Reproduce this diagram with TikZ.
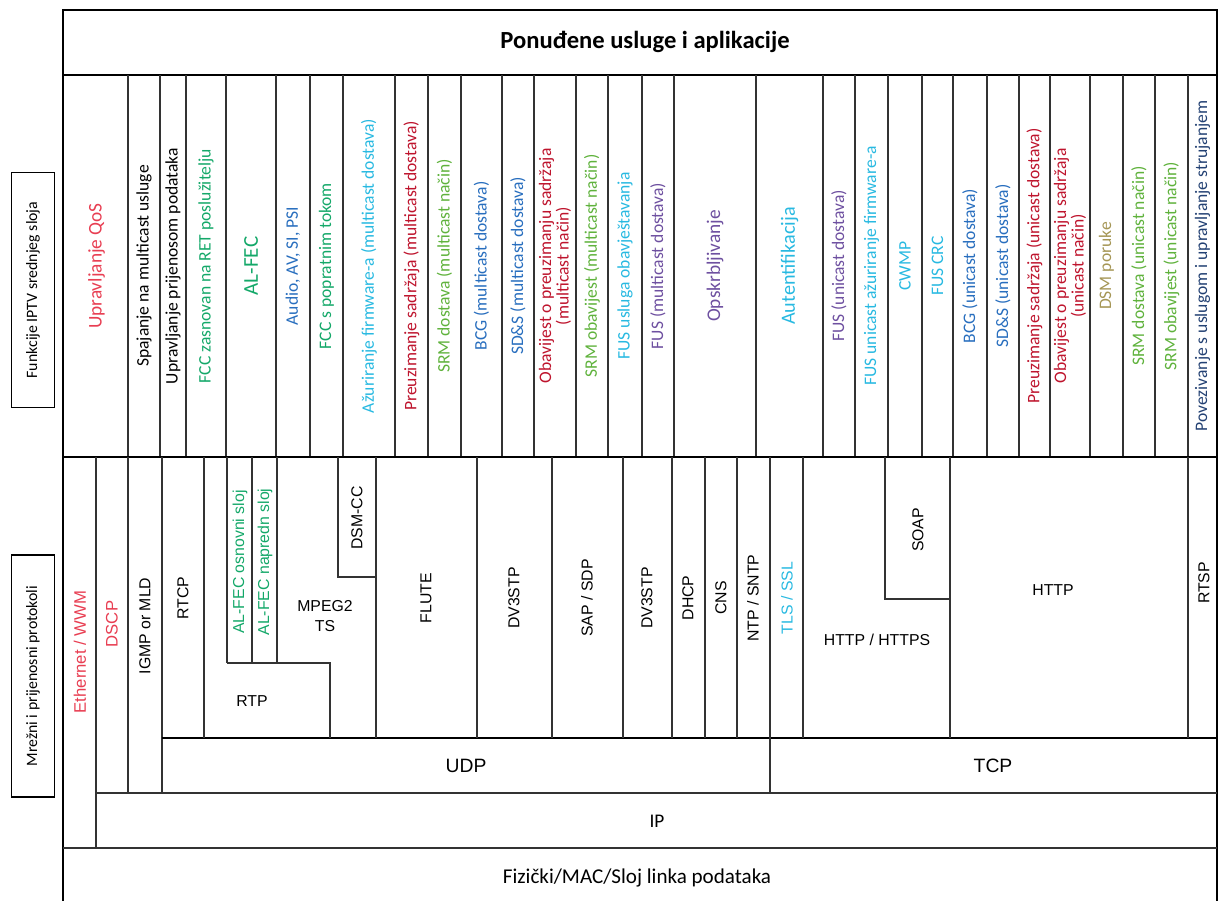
\documentclass[tikz,border=0pt]{standalone}
\usepackage{fontspec}
\setmainfont{Carlito}
\newfontfamily\arialfont{Liberation Sans}
\usetikzlibrary{positioning}

\definecolor{qosred}{RGB}{232,62,82}
\definecolor{darkred}{RGB}{190,20,45}
\definecolor{fecgreen}{RGB}{20,168,105}
\definecolor{srmgreen}{RGB}{95,178,60}
\definecolor{bcgblue}{RGB}{40,110,190}
\definecolor{fwcyan}{RGB}{40,185,225}
\definecolor{fuspurple}{RGB}{110,80,160}
\definecolor{dsmolive}{RGB}{165,150,85}
\definecolor{rtspblue}{RGB}{35,65,115}

\begin{document}
\begin{tikzpicture}[
    x=0.02cm, y=-0.02cm,
    line/.style={line width=0.7pt, black!80},
    heavy/.style={line width=1.2pt, black},
    fnlabel/.style={rotate=90, align=center, inner sep=0pt},
    proto/.style={font=\arialfont\fontsize{9}{11}\selectfont, align=center, inner sep=0pt},
    layer/.style={font=\arialfont\fontsize{11}{12}\selectfont, inner sep=0pt},
    sidebox/.style={draw, line width=0.8pt, rotate=90, font=\fontsize{9}{10}\selectfont,
        minimum height=0.86cm, inner sep=2pt}
]
    \useasboundingbox (0,0) rectangle (1219,901);

    % === Frame and header ===
    \draw[heavy] (63,901) -- (63,10) -- (1217,10) -- (1217,901);
    \draw[heavy] (63,75) -- (1217,75);
    \node[font=\fontsize{14}{16}\selectfont\bfseries] (header) at (645,42) {Ponuđene usluge i aplikacije};

    % side labels
    \node[sidebox, minimum width=4.7cm] (mwlabel) at (33,290) {Funkcije IPTV srednjeg sloja};
    \node[sidebox, minimum width=4.84cm] (netlabel) at (33,676) {Mrežni i prijenosni protokoli};

    % === IPTV middleware functions ===
    \foreach \x in {128,160,186,226,276,310,343,395,428,461,502,534,576,608,642,674,756,823,855,888,922,953,987,1019,1050,1090,1123,1155,1188}
        \draw[line] (\x,75) -- (\x,457);

    \foreach \xa/\xb/\fs/\clr/\txt [count=\i] in {
        65/128/11/qosred/{Upravljanje QoS},
        128/160/10/black/{Spajanje na multicast usluge},
        160/186/10/black/{Upravljanje prijenosom podataka},
        186/226/10/fecgreen/{FCC zasnovan na RET poslužitelju},
        226/276/12/fecgreen/{AL-FEC},
        276/310/10/bcgblue/{Audio, AV, SI, PSI},
        310/343/10/fecgreen/{FCC s popratnim tokom},
        343/395/10/fwcyan/{Ažuriranje firmware-a (multicast dostava)},
        395/428/10/darkred/{Preuzimanje sadržaja (multicast dostava)},
        428/461/10/srmgreen/{SRM dostava (multicast način)},
        461/502/10/bcgblue/{BCG (multicast dostava)},
        502/534/10/bcgblue/{SD\&S (multicast dostava)},
        534/576/10/darkred/{Obavijest o preuzimanju sadržaja\\(multicast način)},
        576/608/10/srmgreen/{SRM obavijest (multicast način)},
        608/642/10/fwcyan/{FUS usluga obavještavanja},
        642/674/10/fuspurple/{FUS (multicast dostava)},
        674/756/11/fuspurple/{Opskrbljivanje},
        756/823/11.5/fwcyan/{Autentifikacija},
        823/855/10/fuspurple/{FUS (unicast dostava)},
        855/888/10/fwcyan/{FUS unicast ažuriranje firmware-a},
        888/922/10/fwcyan/{CWMP},
        922/953/10/fwcyan/{FUS CRC},
        953/987/10/bcgblue/{BCG (unicast dostava)},
        987/1019/10/bcgblue/{SD\&S (unicast dostava)},
        1019/1050/10/darkred/{Preuzimanje sadržaja (unicast dostava)},
        1050/1090/10/darkred/{Obavijest o preuzimanju sadržaja\\(unicast način)},
        1090/1123/10/dsmolive/{DSM poruke},
        1123/1155/10/srmgreen/{SRM dostava (unicast način)},
        1155/1188/10/srmgreen/{SRM obavijest (unicast način)},
        1188/1217/10/rtspblue/{Povezivanje s uslugom i upravljanje strujanjem}}
        \node[fnlabel, text=\clr, font=\fontsize{\fs}{10}\selectfont] (fn\i) at ({(\xa+\xb)/2},266) {\txt};

    \draw[heavy] (63,457) -- (1217,457);

    % === Network and transport protocols ===
    \draw[line] (96,457) -- (96,848);
    \draw[line] (128,457) -- (128,793);
    \draw[line] (162,457) -- (162,793);
    \draw[heavy] (162,738) -- (1217,738);
    \draw[line] (96,793) -- (1217,793);
    \draw[line] (63,848) -- (1217,848);
    \draw[line] (770,457) -- (770,793);

    % application protocols over UDP / TCP
    \foreach \x in {204,376,477,552,623,672,705,737,803,950,1188}
        \draw[line] (\x,457) -- (\x,738);
    \foreach \x in {227,252,277}
        \draw[line] (\x,457) -- (\x,663);
    \draw[line] (227,663) -- (330,663) -- (330,738);
    \draw[line] (338,457) -- (338,577) -- (376,577);
    \draw[line] (885,457) -- (885,599) -- (950,599);

    % protocol names
    \node[proto, rotate=90, text=qosred, font=\arialfont\fontsize{9.5}{11}\selectfont] (eth) at (80,652) {Ethernet / WWM};
    \node[proto, rotate=90, text=qosred, font=\arialfont\fontsize{9.5}{11}\selectfont] (dscp) at (112,624) {DSCP};
    \node[proto, rotate=90] (igmp) at (145,626) {IGMP or MLD};
    \node[proto, rotate=90] (rtcp) at (183,598) {RTCP};
    \node[proto, rotate=90, text=fecgreen] (fecbase) at (240,562) {AL-FEC osnovni sloj};
    \node[proto, rotate=90, text=fecgreen] (fecenh) at (265,562) {AL-FEC napredn sloj};
    \node[proto] (rtp) at (252,701) {RTP};
    \node[proto] (mpeg) at (325,616) {MPEG2\\TS};
    \node[proto, rotate=90] (dsmcc) at (357,518) {DSM-CC};
    \node[proto, rotate=90] (flute) at (426,598) {FLUTE};
    \node[proto, rotate=90] (dvbstpa) at (514,598) {DV3STP};
    \node[proto, rotate=90] (sap) at (587,598) {SAP / SDP};
    \node[proto, rotate=90] (dvbstpb) at (647,598) {DV3STP};
    \node[proto, rotate=90] (dhcp) at (688,598) {DHCP};
    \node[proto, rotate=90] (dns) at (721,598) {CNS};
    \node[proto, rotate=90] (ntp) at (753,598) {NTP / SNTP};
    \node[proto, rotate=90, text=fwcyan] (tls) at (787,598) {TLS / SSL};
    \node[proto] (https) at (877,640) {HTTP / HTTPS};
    \node[proto, rotate=90] (soap) at (918,530) {SOAP};
    \node[proto] (http) at (1053,590) {HTTP};
    \node[proto, rotate=90] (rtsp) at (1204,583) {RTSP};

    % transport, network and link layers
    \node[layer] (udp) at (466,766) {UDP};
    \node[layer] (tcp) at (993,766) {TCP};
    \node[font=\fontsize{11}{12}\selectfont] (ip) at (657,821) {IP};
    \node[font=\fontsize{12}{13}\selectfont] (phy) at (637,878) {Fizički/MAC/Sloj linka podataka};

\end{tikzpicture}
\end{document}
